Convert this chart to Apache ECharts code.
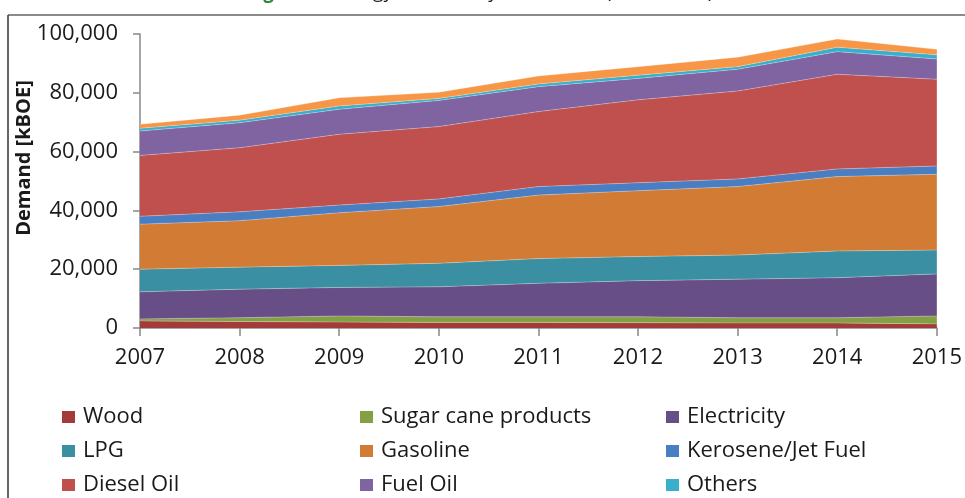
<!DOCTYPE html>
<html>
<head>
<meta charset="utf-8">
<script src="https://cdn.jsdelivr.net/npm/echarts@6/dist/echarts.min.js"></script>
<style>
  html, body { margin: 0; padding: 0; background: #fff; }
  #chart { width: 965px; height: 498px; }
</style>
</head>
<body>
<div id="chart"></div>
<script>
// years on the x axis
const years = ['2007', '2008', '2009', '2010', '2011', '2012', '2013', '2014', '2015']

// demand per fuel, kBOE
const wood        = [2400, 2200, 2000, 1900, 1900, 1800, 1700, 1700, 1400]
const sugarCane   = [700, 1300, 2100, 1900, 1900, 2000, 1800, 1800, 2700]
const electricity = [9200, 9700, 9700, 10200, 11400, 12300, 13100, 13600, 14300]
const lpg         = [7700, 7500, 7500, 8000, 8400, 8200, 8200, 9100, 8100]
const gasoline    = [15300, 15800, 17900, 19300, 21600, 22400, 23300, 25300, 25800]
const kerosene    = [2700, 3000, 2600, 2600, 2900, 2700, 2600, 2600, 2800]
const dieselOil   = [20700, 21800, 24100, 24600, 25500, 28200, 29900, 32200, 29500]
const fuelOil     = [8300, 8500, 8500, 8900, 8500, 7300, 7400, 7700, 6900]
const others      = [900, 900, 1100, 700, 900, 1100, 900, 1500, 1400]
const naturalGas  = [1400, 1700, 2800, 2100, 2700, 2900, 3200, 2800, 1900]

const yTicks = [0, 20000, 40000, 60000, 80000, 100000]

// legend grid: 3 columns x 3 rows
const legendRows = [
    ['Wood', 'Sugar cane products', 'Electricity'],
    ['LPG', 'Gasoline', 'Kerosene/Jet Fuel'],
    ['Diesel Oil', 'Fuel Oil', 'Others']
]

const seriesList = [
    { name: 'Wood', data: wood, color: '#A23B3A' },
    { name: 'Sugar cane products', data: sugarCane, color: '#84A043' },
    { name: 'Electricity', data: electricity, color: '#684E86' },
    { name: 'LPG', data: lpg, color: '#3A8FA2' },
    { name: 'Gasoline', data: gasoline, color: '#D27B35' },
    { name: 'Kerosene/Jet Fuel', data: kerosene, color: '#4A7EC2' },
    { name: 'Diesel Oil', data: dieselOil, color: '#C0504D' },
    { name: 'Fuel Oil', data: fuelOil, color: '#8064A2' },
    { name: 'Others', data: others, color: '#3AAFCB' },
    { name: 'Natural Gas', data: naturalGas, color: '#F79646' }
]

const font = 'Open Sans'
const colX = [62, 360, 666]
const rowY = [417, 451, 485]

// one legend per item so the 3x3 grid lines up like the original
const legends = []
legendRows.forEach((row, r) => {
    row.forEach((name, c) => {
        legends.push({
            left: colX[c],
            top: rowY[r] - 16,
            padding: 0,
            icon: 'rect',
            itemWidth: 13,
            itemHeight: 12,
            itemGap: 0,
            selectedMode: false,
            data: [name],
            textStyle: { fontFamily: font, fontSize: 22, color: '#1a1a1a', lineHeight: 32, padding: [0, 0, 0, 3] }
        })
    })
})

const chart = echarts.init(document.getElementById('chart'))

const option = {
    animation: false,
    textStyle: { fontFamily: font },
    grid: { left: 140, right: 25, top: 34, bottom: 170 },
    xAxis: {
        type: 'category',
        boundaryGap: false,
        data: years,
        axisLine: { lineStyle: { color: '#888', width: 1.5 } },
        axisTick: { alignWithLabel: true, length: 8, lineStyle: { color: '#888', width: 1.5 } },
        axisLabel: { fontFamily: font, fontSize: 22, color: '#1a1a1a', margin: 19 }
    },
    yAxis: {
        type: 'value',
        min: yTicks[0],
        max: yTicks[yTicks.length - 1],
        interval: yTicks[1] - yTicks[0],
        axisLine: { show: true, lineStyle: { color: '#888', width: 1.5 } },
        axisTick: { show: true, inside: false, length: 7, lineStyle: { color: '#888', width: 1.5 } },
        splitLine: { show: false },
        axisLabel: {
            fontFamily: font, fontSize: 22, color: '#1a1a1a', margin: 22,
            formatter: v => v.toLocaleString('en-US')
        }
    },
    legend: legends,
    graphic: [
        // frame of the figure
        { type: 'line', shape: { x1: 8, y1: 15, x2: 965, y2: 15 }, style: { stroke: '#8a8a8a', lineWidth: 2 } },
        { type: 'line', shape: { x1: 8, y1: 15, x2: 8, y2: 498 }, style: { stroke: '#333', lineWidth: 1.5 } },
        // axis title
        {
            type: 'text', x: 24, y: 158, rotation: Math.PI / 2,
            style: {
                text: 'Demand [kBOE]', fontFamily: font, fontSize: 20, fontWeight: 'bold',
                fill: '#1a1a1a', align: 'center', verticalAlign: 'middle'
            }
        },
        // caption, mostly cut off above the frame
        {
            type: 'text', x: 247, y: -17,
            style: {
                text: '{g|Figure 2:} Energy demand by fuel source (2007–2015)',
                fontFamily: font, fontSize: 19, fill: '#1a1a1a', verticalAlign: 'top',
                rich: { g: { fill: '#2e8b3a', fontWeight: 'bold', fontFamily: font, fontSize: 19 } }
            }
        }
    ],
    series: seriesList.map(item => ({
        name: item.name,
        type: 'line',
        stack: 'total',
        data: item.data,
        symbol: 'none',
        color: item.color,
        lineStyle: { width: 0.8, color: 'rgba(255,255,255,0.35)' },
        areaStyle: { color: item.color, opacity: 1 }
    }))
}

chart.setOption(option)
</script>
</body>
</html>
